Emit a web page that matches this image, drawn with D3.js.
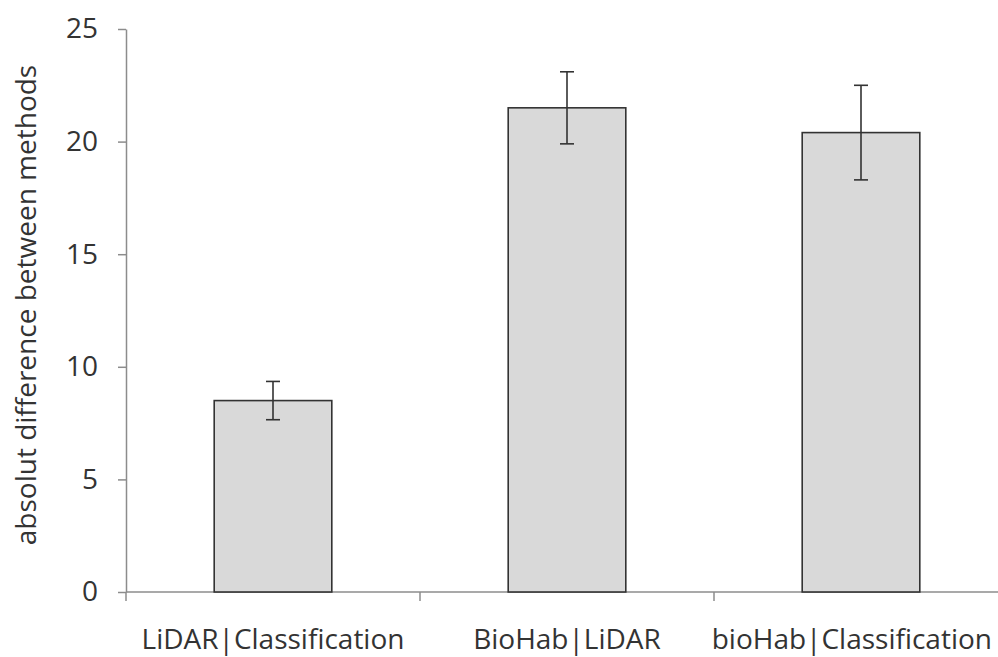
<!DOCTYPE html>
<html>
  <head>
    <title>Absolute difference between methods</title>
    <script src="https://d3js.org/d3.v7.min.js"></script>
  </head>
  <style>
    body { margin: 0; background: #fff; }
    svg, svg text { font-family: "Open Sans", sans-serif; }
    .axis path.domain { stroke: #8c8c8c; stroke-width: 1.5; }
    .axis .tick line { stroke: #8c8c8c; stroke-width: 1.5; }
    .axis .tick text { fill: #333; font-size: 28px; font-family: "Open Sans", sans-serif; }
  </style>
  <body>
    <svg width="998" height="657"></svg>
    <script>
      // values
      var categories = ["LiDAR|Classification", "BioHab|LiDAR", "bioHab|Classification"];
      var means = [8.5, 21.5, 20.4];
      var errors = [0.85, 1.6, 2.1];
      var yTicks = [0, 5, 10, 15, 20, 25];

      var svg = d3.select("svg");
      var plotLeft = 126, plotRight = 1008, plotTop = 29, plotBottom = 592;

      var xScale = d3.scaleBand().domain(categories).range([plotLeft, plotRight]).paddingInner(0).paddingOuter(0);
      var yScale = d3.scaleLinear().domain([0, 25]).range([plotBottom, plotTop]);

      var barW = xScale.bandwidth() * 0.4;
      var mid = c => xScale(c) + xScale.bandwidth() / 2;

      // y axis
      var yAxis = d3.axisLeft(yScale).tickValues(yTicks).tickSize(8).tickSizeOuter(0).tickPadding(20);
      svg.append("g").attr("class", "axis").attr("transform", "translate(" + plotLeft + ",0)").call(yAxis)
        .attr("font-family", null).attr("font-size", null);

      // x axis: ticks on band edges
      svg.append("g").attr("class", "axis")
        .attr("transform", "translate(0," + plotBottom + ")")
        .call(g => {
          g.append("path").attr("class", "domain").attr("d", "M" + plotLeft + ",0H" + plotRight).attr("fill", "none");
          var edges = categories.map(c => xScale(c)).concat([plotRight]);
          g.selectAll("g.tick").data(edges).enter().append("g").attr("class", "tick")
            .append("line").attr("x1", d => d).attr("x2", d => d).attr("y1", 0).attr("y2", 9);
        });

      // category labels, the last one is pulled in so it stays inside the picture
      svg.selectAll("text.cat").data(categories).enter().append("text")
        .attr("class", "cat")
        .attr("y", 649)
        .attr("text-anchor", "middle")
        .attr("fill", "#333")
        .style("font-size", "28px")
        .text(d => d)
        .attr("x", function(d) {
          var w = this.getComputedTextLength();
          return Math.min(mid(d), 992 - w / 2);
        });

      // bars
      svg.selectAll("rect.bar").data(means).enter().append("rect")
        .attr("class", "bar")
        .attr("x", (d, i) => mid(categories[i]) - barW / 2)
        .attr("y", d => yScale(d))
        .attr("width", barW)
        .attr("height", d => yScale(0) - yScale(d))
        .attr("fill", "#d9d9d9")
        .attr("stroke", "#333")
        .attr("stroke-width", 1.6);

      // error bars
      var eb = svg.selectAll("g.err").data(means).enter().append("g").attr("class", "err")
        .attr("stroke", "#333").attr("stroke-width", 1.6);
      eb.append("line")
        .attr("x1", (d, i) => mid(categories[i]))
        .attr("x2", (d, i) => mid(categories[i]))
        .attr("y1", (d, i) => yScale(d + errors[i]))
        .attr("y2", (d, i) => yScale(d - errors[i]));
      [1, -1].forEach(s => {
        eb.append("line")
          .attr("x1", (d, i) => mid(categories[i]) - 7)
          .attr("x2", (d, i) => mid(categories[i]) + 7)
          .attr("y1", (d, i) => yScale(d + s * errors[i]))
          .attr("y2", (d, i) => yScale(d + s * errors[i]));
      });

      // y title
      svg.append("text")
        .attr("transform", "translate(36,305) rotate(-90)")
        .attr("text-anchor", "middle")
        .attr("fill", "#333")
        .style("font-size", "28px")
        .text("absolut difference between methods");
    </script>
  </body>
</html>
